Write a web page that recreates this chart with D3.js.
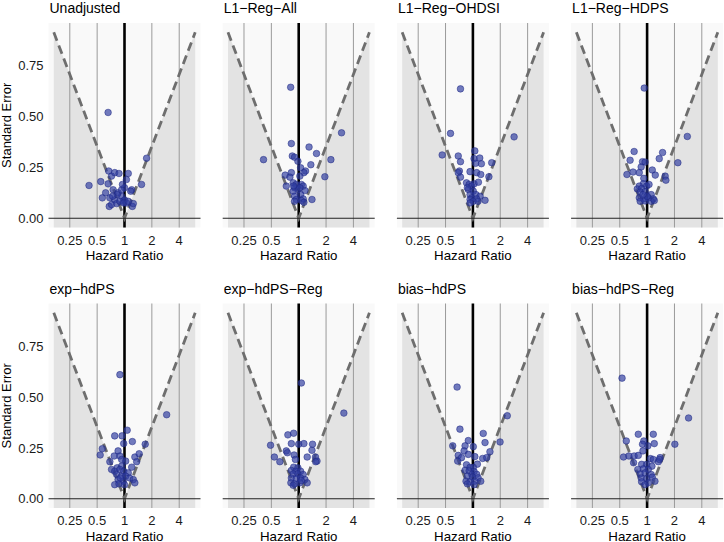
<!DOCTYPE html>
<html><head><meta charset="utf-8">
<script src="https://cdn.jsdelivr.net/npm/d3@7"></script>
<style>body{margin:0;background:#fff} svg{display:block}</style>
</head><body>
<script>
const panelTitles = ["Unadjusted","L1\u2212Reg\u2212All","L1\u2212Reg\u2212OHDSI","L1\u2212Reg\u2212HDPS","exp\u2212hdPS","exp\u2212hdPS\u2212Reg","bias\u2212hdPS","bias\u2212hdPS\u2212Reg"];
const xTicks = [0.25, 0.5, 1, 2, 4];
const xTickLabels = ["0.25", "0.5", "1", "2", "4"];
const yTicks = [0, 0.25, 0.5, 0.75];
const yTickLabels = ["0.00", "0.25", "0.50", "0.75"];
const boundaryHR = [1/6, 1, 6];

// [hazard ratio, standard error]
const unadjusted = [[0.66,0.52],[1.75,0.295],[0.407,0.161],[0.548,0.18],[0.67,0.232],[0.72,0.207],[0.66,0.169],[0.78,0.224],[0.87,0.22],[1.05,0.19],[1.1,0.22],[1.0,0.15],[1.2,0.14],[1.17,0.133],[1.54,0.166],[0.62,0.125],[0.57,0.10],[0.69,0.10],[0.78,0.09],[0.75,0.14],[0.85,0.125],[0.93,0.108],[0.97,0.083],[1.0,0.09],[0.68,0.058],[0.72,0.067],[0.82,0.072],[0.89,0.083],[1.05,0.075],[1.22,0.058],[1.25,0.072],[0.83,0.116],[0.74,0.108],[0.93,0.14],[0.95,0.166],[0.98,0.075],[1.1,0.083]];
const l1RegAll = [[0.816,0.644],[2.96,0.42],[0.83,0.367],[1.3,0.35],[1.57,0.318],[0.41,0.288],[0.85,0.306],[0.9,0.30],[2.26,0.288],[0.98,0.28],[1.36,0.263],[1.05,0.248],[1.19,0.232],[1.14,0.224],[0.83,0.224],[0.71,0.212],[0.8,0.202],[1.94,0.204],[1.03,0.207],[0.73,0.158],[0.87,0.174],[0.94,0.166],[1.07,0.166],[1.12,0.158],[0.9,0.15],[0.98,0.141],[0.87,0.133],[1.17,0.136],[1.05,0.116],[0.9,0.108],[0.94,0.092],[1.12,0.095],[1.4,0.092],[0.9,0.083],[1.07,0.087],[1.14,0.078],[0.88,0.158],[1.03,0.15]];
const l1RegOhdsi = [[0.73,0.636],[2.84,0.40],[0.567,0.417],[0.459,0.311],[0.69,0.306],[0.73,0.278],[1.05,0.331],[1.03,0.293],[1.19,0.296],[1.24,0.268],[1.07,0.27],[1.61,0.273],[0.71,0.232],[0.69,0.224],[0.93,0.229],[1.1,0.224],[1.22,0.215],[1.5,0.204],[0.73,0.202],[0.85,0.174],[0.91,0.166],[0.97,0.158],[1.03,0.169],[1.15,0.177],[0.89,0.141],[1.01,0.133],[0.93,0.116],[1.08,0.116],[1.2,0.108],[0.97,0.10],[0.93,0.092],[1.1,0.095],[1.36,0.088],[1.01,0.083],[1.14,0.083],[0.93,0.075],[0.87,0.15]];
const l1RegHdps = [[0.93,0.64],[2.77,0.402],[0.72,0.328],[1.48,0.323],[0.65,0.285],[1.36,0.293],[2.18,0.273],[0.89,0.278],[0.95,0.276],[0.86,0.252],[0.6,0.215],[0.7,0.227],[0.82,0.224],[1.14,0.237],[1.23,0.212],[1.58,0.207],[1.61,0.187],[0.92,0.196],[0.91,0.169],[0.82,0.158],[0.78,0.144],[0.87,0.146],[0.99,0.158],[1.05,0.166],[0.84,0.128],[0.95,0.131],[1.11,0.116],[0.82,0.10],[0.91,0.095],[1.03,0.10],[1.17,0.095],[0.84,0.083],[0.95,0.085],[1.11,0.083],[1.2,0.087],[1.0,0.108],[0.9,0.116]];
const expHdps = [[0.89,0.61],[2.91,0.413],[0.54,0.215],[0.57,0.246],[0.69,0.182],[0.78,0.309],[0.94,0.309],[1.07,0.337],[0.98,0.271],[1.22,0.281],[1.69,0.268],[0.85,0.235],[0.77,0.21],[0.89,0.21],[0.93,0.193],[1.03,0.185],[1.3,0.205],[1.45,0.221],[1.36,0.182],[1.2,0.155],[0.83,0.152],[0.93,0.16],[0.72,0.144],[0.78,0.135],[0.89,0.144],[0.98,0.135],[1.1,0.127],[0.82,0.119],[0.93,0.111],[1.03,0.111],[1.14,0.102],[1.25,0.094],[1.3,0.078],[0.85,0.094],[0.97,0.086],[0.78,0.069],[0.87,0.073],[1.0,0.069],[0.9,0.102]];
const expHdpsReg = [[1.07,0.569],[3.14,0.421],[0.76,0.314],[0.88,0.322],[0.49,0.263],[0.54,0.205],[0.62,0.182],[0.83,0.271],[1.0,0.268],[1.14,0.271],[1.42,0.268],[1.4,0.238],[0.73,0.235],[0.75,0.226],[0.89,0.215],[0.92,0.193],[1.24,0.205],[1.53,0.205],[1.59,0.185],[1.54,0.182],[0.88,0.155],[0.98,0.152],[0.83,0.139],[0.93,0.135],[1.05,0.135],[0.87,0.122],[0.98,0.122],[1.12,0.119],[0.83,0.102],[0.94,0.099],[1.05,0.102],[1.17,0.094],[0.82,0.078],[0.9,0.073],[1.03,0.078],[1.24,0.078],[0.87,0.066],[1.07,0.089]];
const biasHdps = [[0.67,0.549],[2.39,0.408],[0.72,0.342],[1.3,0.321],[1.36,0.276],[1.99,0.279],[0.6,0.26],[0.89,0.286],[0.82,0.26],[0.8,0.235],[0.89,0.218],[0.69,0.213],[0.75,0.202],[0.68,0.185],[1.01,0.256],[1.05,0.207],[1.12,0.17],[1.28,0.198],[1.42,0.202],[1.54,0.231],[0.85,0.167],[0.93,0.154],[1.01,0.154],[0.82,0.14],[0.91,0.137],[1.03,0.134],[0.97,0.12],[1.1,0.12],[0.87,0.111],[0.99,0.106],[1.14,0.103],[0.84,0.086],[0.93,0.083],[1.05,0.086],[1.22,0.086],[0.87,0.073],[1.03,0.069]];
const biasHdpsReg = [[0.53,0.593],[2.86,0.397],[0.59,0.284],[0.8,0.317],[1.17,0.317],[0.92,0.284],[0.89,0.268],[1.02,0.26],[2.02,0.268],[1.2,0.271],[0.55,0.205],[0.63,0.21],[0.72,0.21],[0.8,0.213],[0.9,0.235],[0.71,0.177],[1.09,0.197],[1.17,0.193],[1.39,0.202],[1.33,0.182],[1.37,0.193],[0.87,0.169],[0.99,0.169],[1.13,0.16],[0.79,0.144],[0.91,0.147],[1.03,0.144],[0.84,0.122],[0.95,0.127],[1.11,0.119],[0.86,0.102],[0.99,0.099],[1.14,0.106],[0.87,0.083],[1.03,0.078],[1.22,0.086],[0.95,0.069]];

const panelData = [unadjusted, l1RegAll, l1RegOhdsi, l1RegHdps, expHdps, expHdpsReg, biasHdps, biasHdpsReg];

const W = 724, H = 542;
const svg = d3.select("body").append("svg").attr("width", W).attr("height", H)
  .style("font-family", "'Liberation Sans', Arial, Helvetica, sans-serif");

const panelW = 152;
const colCenters = [124.5, 298.7, 472.9, 647.1];
const rowTops = [23, 303.5];
const panelH = 204.5;
const xHalf = 6.86;
const yDomain = [-0.0457, 0.96];

panelTitles.forEach((title, i) => {
  const col = i % 4, row = Math.floor(i / 4);
  const cx = colCenters[col];
  const left = cx - panelW / 2, top = rowTops[row];
  const x = d3.scaleLog().base(2).domain([1 / xHalf, xHalf]).range([left, left + panelW]);
  const y = d3.scaleLinear().domain(yDomain).range([top + panelH, top]);
  const g = svg.append("g");

  // panel background
  g.append("rect").attr("x", left).attr("y", top).attr("width", panelW).attr("height", panelH).attr("fill", "#F9F9F9");

  // grey significance region
  const bTop = Math.abs(Math.log(boundaryHR[0])) / 1.96;
  const poly = [
    [x(boundaryHR[0]), top + panelH],
    [x(boundaryHR[0]), y(bTop)],
    [x(1), y(0)],
    [x(boundaryHR[2]), y(Math.abs(Math.log(boundaryHR[2])) / 1.96)],
    [x(boundaryHR[2]), top + panelH]
  ];
  g.append("path").attr("d", d3.line()(poly)).attr("fill", "#E3E3E3");

  // vertical grid lines
  xTicks.filter(t => t !== 1).forEach(t => {
    g.append("line").attr("x1", x(t)).attr("x2", x(t)).attr("y1", top).attr("y2", top + panelH)
      .attr("stroke", "#9A9A9A").attr("stroke-width", 1);
  });
  // line at 1
  g.append("line").attr("x1", x(1)).attr("x2", x(1)).attr("y1", top).attr("y2", top + panelH)
    .attr("stroke", "#000").attr("stroke-width", 2.6);

  // dashed boundary lines
  const dashPts = boundaryHR.map(v => [x(v), y(Math.abs(Math.log(v)) / 1.96)]);
  g.append("path").attr("d", d3.line()(dashPts)).attr("fill", "none")
    .attr("stroke", "#6E6E6E").attr("stroke-width", 2.8).attr("stroke-dasharray", "9,5")
    .attr("stroke-linejoin", "miter");

  // zero line
  g.append("line").attr("x1", left).attr("x2", left + panelW).attr("y1", y(0)).attr("y2", y(0))
    .attr("stroke", "#222").attr("stroke-width", 1.1);

  // points
  g.selectAll("circle.pt").data(panelData[i]).enter().append("circle")
    .attr("class", "pt")
    .attr("cx", d => x(d[0])).attr("cy", d => y(d[1])).attr("r", 3.3)
    .attr("fill", "rgba(48,62,160,0.68)").attr("stroke", "rgba(30,40,130,0.85)").attr("stroke-width", 0.6);

  // title
  g.append("text").attr("x", left + 1).attr("y", top - 10).attr("font-size", 14).attr("fill", "#000").text(title);

  // x tick labels
  xTicks.forEach((t, k) => {
    g.append("text").attr("x", x(t)).attr("y", top + panelH + 17).attr("text-anchor", "middle")
      .attr("font-size", 13).attr("fill", "#1a1a1a").text(xTickLabels[k]);
  });
  // x axis title
  g.append("text").attr("x", cx).attr("y", top + panelH + 32.5).attr("text-anchor", "middle")
    .attr("font-size", 13.3).attr("fill", "#000").text("Hazard Ratio");

  if (col === 0) {
    yTicks.forEach((t, k) => {
      g.append("text").attr("x", left - 5).attr("y", y(t) + 4.7).attr("text-anchor", "end")
        .attr("font-size", 13).attr("fill", "#1a1a1a").text(yTickLabels[k]);
    });
    g.append("text").attr("transform", `translate(10.5,${top + panelH / 2}) rotate(-90)`)
      .attr("text-anchor", "middle").attr("font-size", 13).attr("fill", "#000").text("Standard Error");
  }
});
</script>
</body></html>
